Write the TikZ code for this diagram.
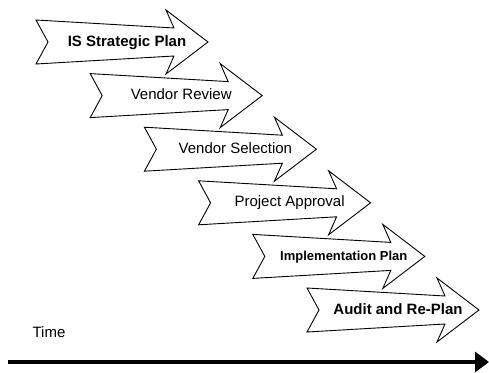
\documentclass[tikz,border=0pt]{standalone}
\usepackage{fontspec}
\setmainfont{Liberation Sans}
\usetikzlibrary{positioning,arrows.meta}

\begin{document}
\begin{tikzpicture}[
	x=1pt,y=-1pt,
	stage/.style={
		inner sep=1pt,
		text height=11pt,
		text depth=3pt,
		font=\fontsize{15}{18}\selectfont
	},
	boldstage/.style={
		stage,
		font=\fontsize{15}{18}\selectfont\bfseries
	},
	outline/.style={
		draw,
		line width=0.9pt,
		line join=miter
	},
	node distance=53.6pt and 54.2pt,
	on grid
	]
	\useasboundingbox (0,0) rectangle (489,372);

	% the six stages, stepping down to the right
	\node[boldstage] at (127,42) (plan) {IS Strategic Plan};
	\node[stage,below right=of plan] (review) {Vendor Review};
	\node[stage,below right=of review] (select) {Vendor Selection};
	\node[stage,below right=of select] (approve) {Project Approval};
	\node[boldstage,font=\fontsize{13}{16}\selectfont\bfseries,below right=of approve] (implement) {Implementation Plan};
	\node[boldstage,below right=of implement] (audit) {Audit and Re-Plan};

	% arrow outline round each stage
	\foreach \s in {plan,review,select,approve,implement,audit}
		\draw[outline] ([shift={(-91,-22)}]\s.center)
			-- ([shift={(47,-14)}]\s.center)
			-- ([shift={(39,-32)}]\s.center)
			-- ([shift={(81,0)}]\s.center)
			-- ([shift={(39,32)}]\s.center)
			-- ([shift={(47,14)}]\s.center)
			-- ([shift={(-91,22)}]\s.center)
			-- ([shift={(-79,0)}]\s.center)
			-- cycle;

	% time axis
	\node[stage] at (49,333) (time) {Time};
	\coordinate (t0) at (8,362);
	\coordinate (t1) at (489,362);
	\draw[line width=4pt,-{Triangle[length=14pt,width=20pt]}] (t0) -- (t1);
\end{tikzpicture}
\end{document}
